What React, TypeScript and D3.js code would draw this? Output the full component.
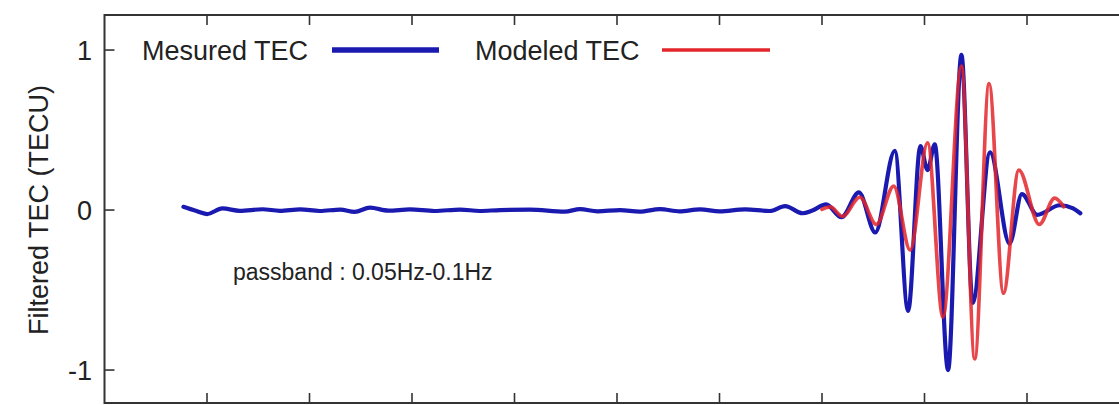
import React, { useMemo } from 'react';
import { scaleLinear, line, curveMonotoneX } from 'd3';

// time axis (arbitrary units, ticks carry no labels)
const measuredX = [
    77, 89, 100, 115, 132, 154, 171, 191, 210, 230, 244, 259, 277, 298, 322, 347, 366, 386,
    415, 449, 464, 481, 503, 522, 542, 561, 581, 600, 625, 649, 664, 681, 690, 704, 719, 736,
    752, 771, 784, 796, 803, 810, 823, 836, 847, 864, 883, 895, 910, 932, 945, 952,
];
const measuredY = [
    0.02, -0.005, -0.025, 0.01, -0.005, 0.005, -0.005, 0.004, -0.006, 0.003, -0.012, 0.015, -0.004, 0.004, -0.006, 0.003, -0.006, 0.0,
    0.002, -0.01, 0.006, -0.008, 0.0, -0.01, 0.006, -0.008, 0.004, -0.008, 0.004, -0.006, 0.025, -0.02, -0.005, 0.035, -0.045, 0.11,
    -0.14, 0.37, -0.63, 0.4, 0.25, 0.41, -1.0, 0.97, -0.58, 0.36, -0.21, 0.1, -0.03, 0.03, 0.01, -0.02,
];

const modeledX = [700, 708, 720, 737, 753, 770, 786, 803, 818, 836, 849, 863, 877, 892, 912, 927, 936];
const modeledY = [0.005, 0.02, -0.04, 0.08, -0.09, 0.15, -0.25, 0.42, -0.67, 0.9, -0.93, 0.79, -0.52, 0.25, -0.09, 0.075, 0.02];

const xTicks = [100, 200, 300, 400, 500, 600, 700, 800, 900];
const yTicks = [-1, 0, 1];

const W = 1119;
const H = 405;
const BLUE = '#1a1ab0';
const RED = '#e3262b';
const FONT = '"Liberation Sans", Arial, Helvetica, sans-serif';

export default function App() {
    const chart = useMemo(() => {
        const x = scaleLinear().domain([0, 1000]).range([104.5, 1129.5]);
        const y = scaleLinear().domain([-1.206, 1.219]).range([403, 15]);
        const path = line<[number, number]>()
            .x((d) => x(d[0]))
            .y((d) => y(d[1]))
            .curve(curveMonotoneX);
        return {
            x,
            y,
            measured: path(measuredX.map((v, i) => [v, measuredY[i]])) || '',
            modeled: path(modeledX.map((v, i) => [v, modeledY[i]])) || '',
        };
    }, []);

    const { x, y } = chart;
    const left = x(0);
    const right = x(1000);
    const top = y(1.219);
    const bottom = y(-1.206);
    const tickLen = 10;

    return (
        <div style={{ position: 'absolute', left: 0, top: 0, width: W, height: H, background: '#fff' }}>
            <svg width={W} height={H} style={{ display: 'block' }} fontFamily={FONT}>
                <defs>
                    <clipPath id="plot-clip">
                        <rect x={left} y={top} width={right - left} height={bottom - top} />
                    </clipPath>
                </defs>

                {/* frame ticks */}
                <g stroke="#333" strokeWidth={1.6}>
                    {xTicks.map((t) => (
                        <g key={`xt-${t}`}>
                            <line x1={x(t)} x2={x(t)} y1={top} y2={top + tickLen} />
                            <line x1={x(t)} x2={x(t)} y1={bottom} y2={bottom - tickLen} />
                        </g>
                    ))}
                    {yTicks.map((t) => (
                        <g key={`yt-${t}`}>
                            <line x1={left} x2={left + tickLen} y1={y(t)} y2={y(t)} />
                            <line x1={right} x2={right - tickLen} y1={y(t)} y2={y(t)} />
                        </g>
                    ))}
                </g>

                {/* curves */}
                <g clipPath="url(#plot-clip)" fill="none" strokeLinejoin="round" strokeLinecap="round">
                    <path d={chart.measured} stroke={BLUE} strokeWidth={4.2} />
                    <path d={chart.modeled} stroke={RED} strokeWidth={3.7} strokeOpacity={0.85} />
                </g>

                <rect
                    x={left}
                    y={top}
                    width={right - left}
                    height={bottom - top}
                    fill="none"
                    stroke="#333"
                    strokeWidth={2}
                />

                {/* y tick labels */}
                <g fontSize={27} fill="#222" textAnchor="end">
                    {yTicks.map((t) => (
                        <text key={`yl-${t}`} x={92} y={y(t)} dy="0.36em">
                            {t}
                        </text>
                    ))}
                </g>

                <text
                    transform={`translate(48, ${y(0)}) rotate(-90)`}
                    textAnchor="middle"
                    fontSize={27}
                    fill="#222"
                >
                    Filtered TEC (TECU)
                </text>

                {/* legend */}
                <g fontSize={27} fill="#222">
                    <text x={142} y={y(1)} dy="0.36em">Mesured TEC</text>
                    <line x1={332} x2={439} y1={y(1)} y2={y(1)} stroke={BLUE} strokeWidth={5.5} />
                    <text x={475} y={y(1)} dy="0.36em">Modeled TEC</text>
                    <line x1={662} x2={770} y1={y(1)} y2={y(1)} stroke={RED} strokeWidth={3.5} />
                </g>

                <text x={233} y={272} dy="0.36em" fontSize={23} fill="#222">
                    passband : 0.05Hz-0.1Hz
                </text>
            </svg>
        </div>
    );
}
